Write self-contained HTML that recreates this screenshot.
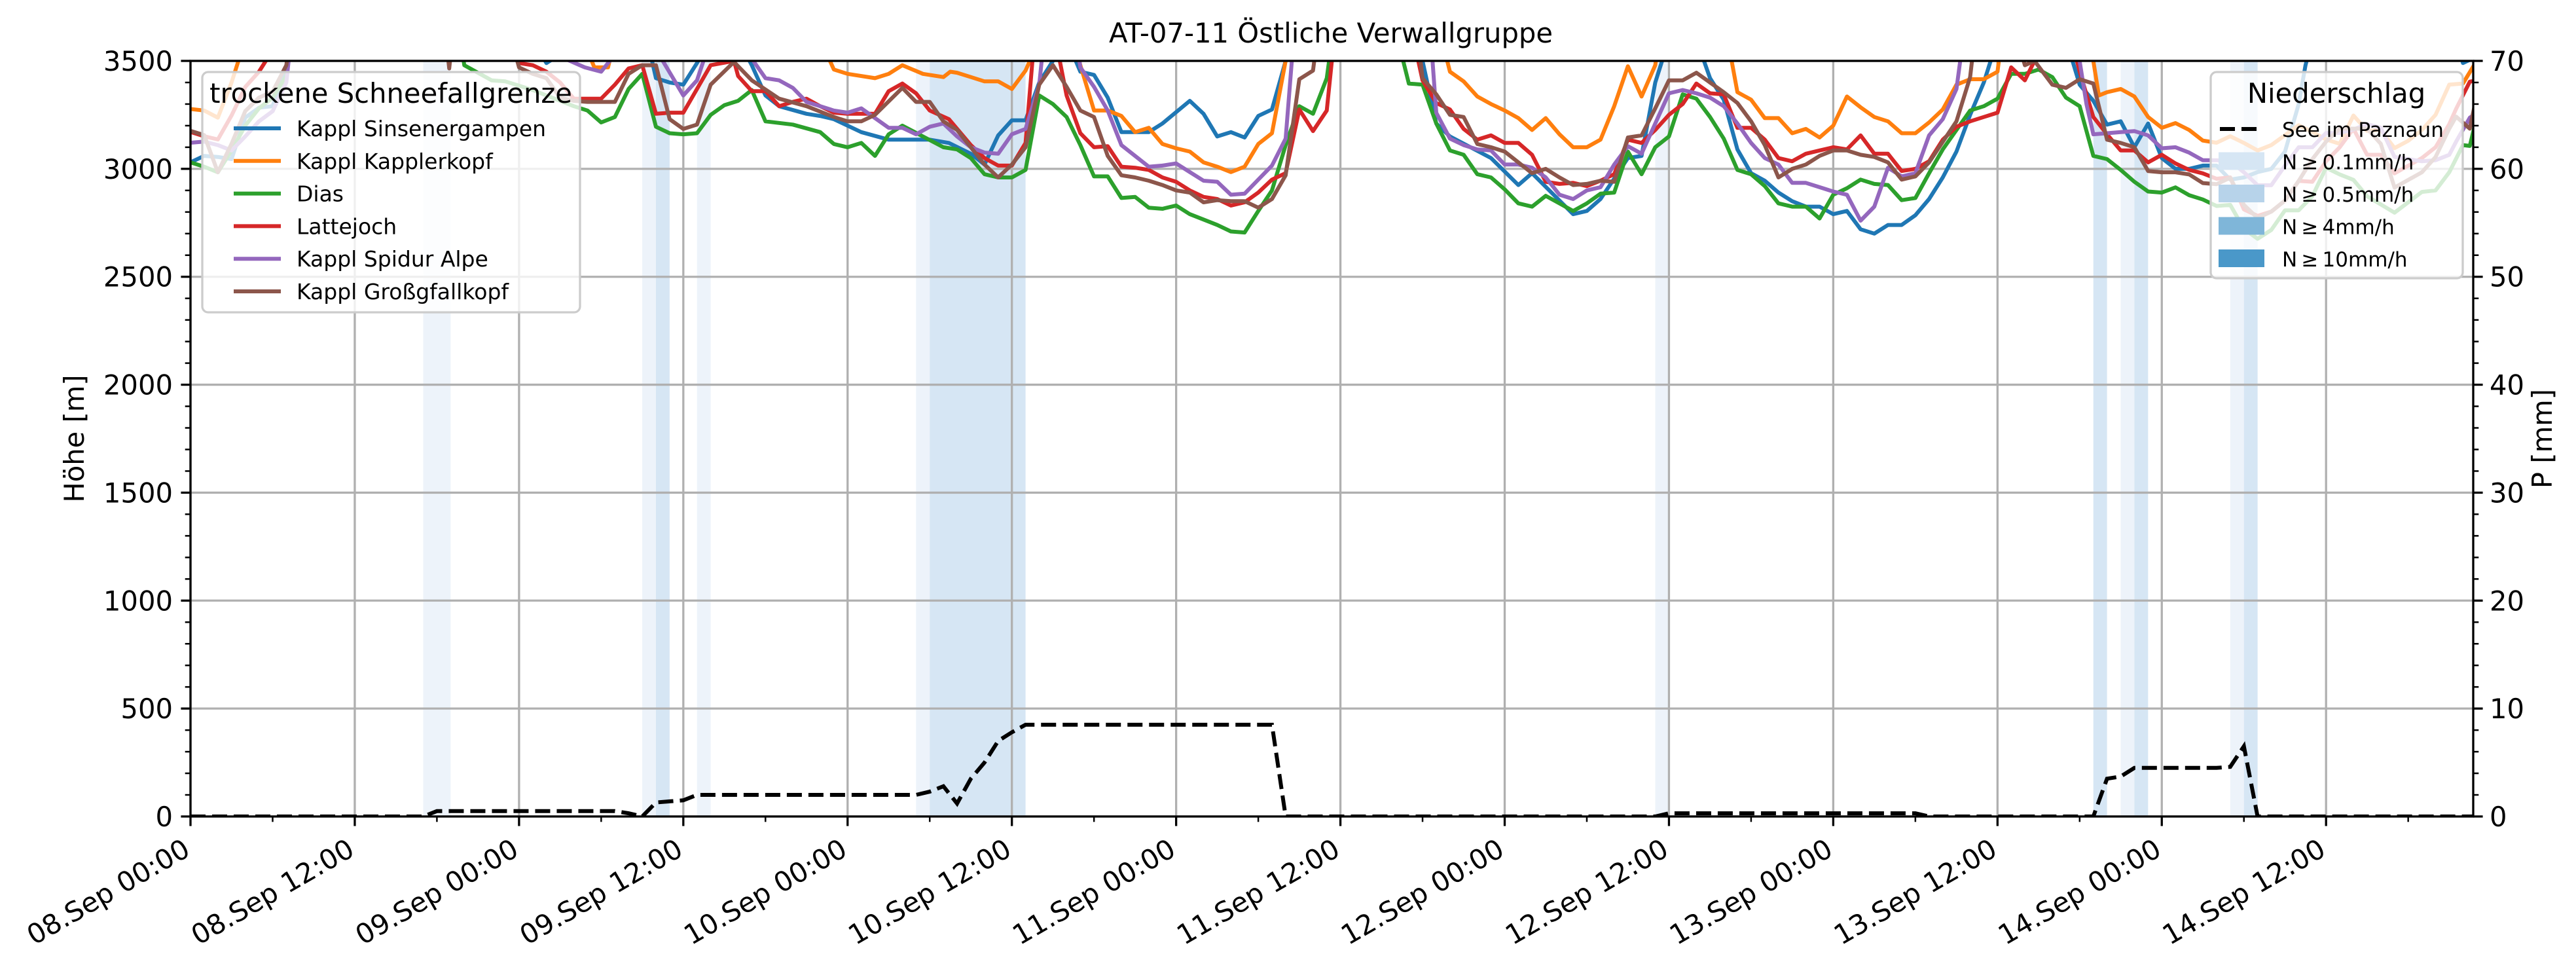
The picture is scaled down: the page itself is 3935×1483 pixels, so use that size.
<!DOCTYPE html>
<html><head><meta charset="utf-8"><title>AT-07-11 Östliche Verwallgruppe</title>
<style>html,body{margin:0;padding:0;background:#fff;}svg{display:block;font-family:"DejaVu Sans","Liberation Sans",sans-serif;}</style>
</head><body>
<svg id="chart" xmlns="http://www.w3.org/2000/svg" width="3935" height="1483" viewBox="0 0 3935 1483">
<defs><clipPath id="plotclip"><rect x="291" y="93" width="3487" height="1154"/></clipPath></defs>
<text x="2033" y="65" text-anchor="middle" font-size="41.7">AT-07-11 Östliche Verwallgruppe</text>
<g id="bands" clip-path="url(#plotclip)"></g>
<g id="grid"></g>
<g id="series" clip-path="url(#plotclip)"></g>
<g id="axes"></g>
<g id="legends"></g>
</svg>
<script>
const hourTicks = [0,12,24,36,48,60,72,84,96,108,120,132,144,156];
const tickLabels = ["08.Sep 00:00","08.Sep 12:00","09.Sep 00:00","09.Sep 12:00","10.Sep 00:00","10.Sep 12:00","11.Sep 00:00","11.Sep 12:00","12.Sep 00:00","12.Sep 12:00","13.Sep 00:00","13.Sep 12:00","14.Sep 00:00","14.Sep 12:00"];
const leftTicks = [0,500,1000,1500,2000,2500,3000,3500];
const rightTicks = [0,10,20,30,40,50,60,70];
const seriesNames = ["Kappl Sinsenergampen","Kappl Kapplerkopf","Dias","Lattejoch","Kappl Spidur Alpe","Kappl Großgfallkopf"];
const bandStart = [17,33,34,37,53,54,107,139,141,142,149,150];
const bandEnd   = [19,34,35,38,54,61,108,140,142,143,150,151];
const bandLevel = [0,0,1,0,0,1,0,1,0,1,0,1];
const precipHours = [0,17,18,31,32,33,34,35,36,37,53,54,55,56,57,58,59,60,61,79,80,107,108,126,127,139,140,141,142,148,149,150,151,166.75];
const precipValues = [0,0,0.5,0.5,0.3,0,1.3,1.4,1.5,2.0,2.0,2.3,2.8,1.2,3.5,5.0,7.0,7.8,8.5,8.5,0,0,0.3,0.3,0,0,3.5,3.7,4.5,4.5,4.6,6.5,0,0];
const sinsen = [[0,3030],[1,3060],[2,3055],[3,3045],[4,3237],[5,3283],[6,3290],[7,3480],[8,3700],[24,3700],[26,3490],[27,3530],[28,3700],[33,3700],[34,3420],[35,3400],[36,3390],[37,3490],[38,3600],[40,3600],[41,3480],[42,3340],[43,3290],[45,3255],[46,3245],[47,3230],[49,3170],[51,3135],[54,3135],[55.4,3120],[57,3070],[58,3020],[59,3155],[60,3225],[61,3225],[62,3400],[63,3500],[64,3600],[65,3450],[66,3435],[67,3330],[68,3170],[69,3170],[70,3170],[71,3210],[73,3315],[74,3255],[75,3150],[76,3170],[77,3145],[78,3245],[79,3275],[80,3500],[81,3700],[89,3700],[90,3500],[91,3210],[92,3150],[95,3050],[97,2925],[98,2980],[101,2790],[102,2805],[103,2860],[105,3050],[106,3060],[107,3400],[108,3600],[110,3600],[111,3420],[112,3320],[113,3090],[114,2980],[115,2945],[116,2890],[117,2850],[118,2825],[119,2825],[120,2790],[121,2805],[122,2720],[123,2700],[124,2740],[125,2740],[126,2785],[127,2860],[128,2960],[129,3080],[130,3250],[131,3400],[132,3600],[137,3600],[138,3390],[139,3315],[140,3205],[141,3220],[142,3100],[143,3210],[144,3050],[145,3000],[146,3000],[147,3015],[148,3015],[149,2950],[150,2960],[151,2985],[152,3000],[153,3080],[154,3300],[154.5,3480],[155,3600],[165.5,3600],[166,3490],[167,3520]];
const kapplerkopf = [[0,3277],[1,3270],[2,3237],[3,3400],[3.5,3500],[4,3700],[28,3700],[29.5,3470],[30.5,3470],[31,3600],[46,3600],[47,3460],[48,3440],[50,3420],[51,3440],[52,3480],[53.5,3440],[55,3425],[55.5,3450],[56,3445],[57,3425],[58,3405],[59,3405],[60,3370],[61,3455],[62,3600],[64.5,3600],[65,3480],[66,3270],[67,3270],[68,3245],[69,3170],[70,3190],[71,3115],[72,3095],[73,3080],[74,3030],[75,3010],[76,2985],[77,3010],[78,3115],[79,3165],[80,3500],[80.5,3700],[91,3700],[92,3450],[93,3405],[94,3335],[95,3300],[96,3270],[97,3235],[98,3180],[99,3235],[100,3160],[101,3100],[102,3100],[103,3135],[104,3290],[105,3475],[106,3335],[107,3480],[107.5,3700],[112,3700],[113,3355],[114,3320],[115,3235],[116,3235],[117,3165],[118,3185],[119,3145],[120,3200],[121,3335],[122,3285],[123,3240],[124,3220],[125,3165],[126,3165],[127,3215],[128,3275],[129,3390],[130,3415],[131,3415],[132,3450],[132.5,3700],[138.5,3700],[139.4,3340],[140,3355],[141,3370],[142,3335],[143,3240],[144,3190],[145,3212],[146,3180],[147,3131],[148,3121],[149,3151],[150,3120],[151,3085],[152,3110],[153,3156],[154,3202],[155,3171],[156,3136],[157,3116],[158,3247],[159,3176],[160,3180],[161,3096],[162,3130],[163,3180],[164,3250],[165,3390],[166,3395],[167,3500]];
const dias = [[0,3030],[1,3010],[2,2984],[3,3085],[4,3200],[5,3280],[6,3330],[7,3430],[7.5,3700],[19.5,3700],[20,3480],[22,3410],[23,3405],[25,3365],[26,3340],[28,3290],[29,3270],[30,3215],[31,3240],[32,3370],[33,3440],[34,3195],[35,3165],[36,3160],[37,3165],[38,3250],[39,3295],[40,3315],[41,3365],[42,3220],[44,3205],[46,3170],[47,3115],[48,3100],[49,3120],[50,3060],[51,3160],[52,3200],[53.5,3150],[55,3100],[56,3090],[57,3050],[58,2975],[59,2960],[60,2960],[61,2995],[62,3340],[63,3300],[64,3240],[65,3110],[66,2965],[67,2965],[68,2865],[69,2870],[70,2820],[71,2815],[72,2830],[73,2790],[74,2765],[75,2740],[76,2710],[77,2705],[78,2805],[79,2900],[80,3110],[81,3290],[82,3255],[83,3420],[83.6,3700],[87.8,3700],[89,3395],[90,3390],[91,3210],[92,3085],[93,3065],[94,2975],[95,2960],[96,2905],[97,2840],[98,2825],[99,2875],[100,2840],[101,2805],[102,2840],[103,2885],[104,2890],[105,3080],[106,2975],[107,3100],[108,3150],[109,3345],[110,3325],[111,3240],[112,3140],[113,2995],[114,2975],[115,2920],[116,2840],[117,2825],[118,2825],[119,2770],[120,2880],[121,2910],[122,2950],[123,2930],[124,2925],[125,2855],[126,2865],[127,2980],[128,3090],[129,3180],[130,3270],[131,3290],[132,3325],[133,3440],[134,3440],[135,3460],[136,3425],[137,3330],[138,3290],[139,3060],[140,3045],[141,2995],[142,2940],[143,2895],[144,2890],[145,2914],[146,2878],[147,2858],[148,2828],[149,2833],[150,2722],[151,2676],[152,2717],[153,2808],[154,2808],[155,2873],[156,3005],[157,2974],[158,2949],[159,2873],[161,2797],[163,2893],[164,2900],[165,2984],[166,3110],[166.5,3106],[167,3237]];
const lattejoch = [[0,3171],[1,3151],[2,3136],[3,3247],[4,3379],[5,3450],[6,3550],[7,3700],[23,3700],[24,3490],[25,3480],[26,3450],[27,3400],[28,3325],[29,3325],[30,3325],[31,3390],[32,3465],[33,3480],[34,3255],[35,3260],[36,3260],[37,3370],[38,3480],[39.7,3500],[40,3430],[41,3360],[42,3360],[43,3290],[44,3310],[45,3325],[46,3290],[47,3260],[48,3255],[50,3255],[51,3360],[52,3395],[53,3350],[54,3270],[55.4,3230],[57,3110],[58,3050],[59,3015],[60,3015],[61,3120],[61.5,3500],[62,3700],[63,3700],[63.5,3500],[64,3340],[65,3165],[66,3100],[67,3105],[68,3010],[69,3005],[70,2995],[71,2960],[72,2940],[73,2900],[74,2870],[75,2860],[76,2830],[77,2845],[78,2890],[79,2950],[80,2980],[81,3275],[82,3175],[83,3270],[83.7,3700],[89,3700],[90,3410],[91,3305],[92,3275],[93,3185],[94,3135],[95,3155],[96,3120],[97,3120],[98,3065],[99,2940],[100,2930],[101,2935],[102,2920],[103,2945],[104,2975],[105,3135],[106,3120],[107,3180],[108,3250],[109,3300],[110,3395],[111,3350],[112,3345],[113,3190],[114,3190],[115,3135],[116,3050],[117,3035],[118,3070],[119,3085],[120,3100],[121,3090],[122,3155],[123,3070],[124,3070],[125,2990],[126,3000],[127,3035],[128,3135],[129,3195],[130,3220],[131,3240],[132,3260],[133,3470],[134,3410],[134.7,3500],[135,3700],[137,3700],[138,3450],[139,3240],[140,3160],[141,3085],[142,3085],[143,3030],[144,3065],[145,3025],[146,2995],[147,2979],[148,2954],[149,2960],[150,2812],[151,2782],[152,2802],[153,2853],[154,2944],[155,2940],[156,3035],[157,3100],[158,3186],[159,3065],[160,3065],[161,2979],[163,3050],[164,3100],[165,3207],[165.5,3278],[166.5,3404],[167,3409]];
const spidur = [[0,3121],[1,3126],[2,3110],[3,3085],[4,3150],[5,3220],[6,3267],[7,3400],[7.5,3700],[26,3700],[27,3520],[28.8,3470],[30,3450],[31,3530],[32,3700],[34,3700],[34.5,3500],[36,3340],[37,3410],[38,3600],[40,3600],[42,3420],[43,3410],[44,3375],[45,3310],[47,3270],[48,3260],[49,3280],[51,3190],[52,3190],[53,3160],[54,3195],[55,3210],[56,3150],[57,3100],[58,3075],[59,3070],[60,3160],[61,3185],[62,3390],[62.5,3700],[64.5,3700],[65,3470],[66,3380],[67,3270],[68,3110],[69,3060],[70,3010],[71,3015],[72,3025],[73,2985],[74,2945],[75,2940],[76,2880],[77,2885],[78,2950],[79,3015],[80,3140],[80.7,3700],[90.5,3700],[91,3260],[92,3140],[93,3110],[94,3090],[95,3085],[96,3020],[97,3020],[98,3005],[99,2960],[100,2880],[101,2860],[102,2900],[103,2915],[104,3020],[105,3105],[106,3070],[107,3210],[108,3350],[109,3365],[110,3350],[111,3330],[112,3290],[113,3210],[114,3120],[115,3050],[116,3020],[117,2935],[118,2935],[119,2915],[120,2895],[121,2880],[122,2760],[123,2825],[124,3005],[125,2965],[126,2980],[127,3155],[128,3230],[129,3370],[129.7,3700],[137.5,3700],[138.5,3300],[139,3160],[140,3165],[141,3170],[142,3175],[143,3155],[144,3095],[145,3100],[146,3075],[147,3040],[148,3040],[149,3035],[150,2984],[151,2924],[152,2924],[153,3015],[154,3100],[155,3100],[156,3166],[157,3166],[158,3182],[159,3207],[160,3190],[161,3055],[163,3035],[164,3040],[165,3065],[165.5,3126],[166.5,3237],[167,3257]];
const grossgfall = [[0,3176],[1,3156],[2,2984],[3,3116],[4,3267],[5,3330],[6,3358],[7,3480],[7.5,3700],[18.5,3700],[18.9,3465],[19.3,3700],[23,3700],[24,3470],[25,3440],[26,3420],[27,3330],[28,3315],[29,3310],[30,3310],[31,3310],[32,3440],[33,3480],[34,3480],[35,3230],[36,3185],[37,3205],[38,3390],[39.7,3495],[41,3410],[43,3325],[45,3290],[47,3240],[48,3220],[49,3220],[50,3250],[52,3375],[53,3310],[54,3310],[55,3220],[56,3180],[57,3100],[58,3020],[59,2960],[60,3020],[61,3100],[62,3390],[63,3480],[64,3380],[65,3270],[66,3240],[67,3060],[68,2970],[69,2960],[70,2945],[71,2925],[72,2900],[73,2890],[74,2845],[75,2855],[76,2850],[77,2850],[78,2820],[79,2860],[80,2970],[81,3415],[82,3455],[82.5,3700],[89.5,3700],[90,3420],[91,3345],[92,3250],[93,3240],[94,3115],[95,3100],[96,3080],[97,3030],[98,2980],[99,3000],[100,2960],[101,2925],[102,2930],[103,2945],[104,2940],[105,3145],[106,3155],[107,3280],[108,3410],[109,3410],[110,3445],[111,3400],[112,3355],[113,3305],[114,3220],[115,3110],[116,2960],[117,3000],[118,3020],[119,3060],[120,3085],[121,3085],[122,3065],[123,3055],[124,3030],[125,2950],[126,2965],[127,3030],[128,3125],[129,3220],[130,3425],[130.5,3700],[133,3700],[134,3480],[134.7,3500],[136,3390],[137,3375],[138,3415],[139,3395],[140,3135],[141,3120],[142,3100],[143,2990],[144,2984],[145,2984],[146,2974],[147,2934],[148,2929],[149,2959],[150,2833],[151,2772],[152,2802],[153,2853],[154,2944],[155,3045],[156,3126],[157,3186],[158,3186],[159,3186],[160,3116],[161,2913],[163,2984],[164,3055],[165,3186],[165.5,3242],[166.5,3186],[167,3338]];
const allSeries = [sinsen,kapplerkopf,dias,lattejoch,spidur,grossgfall];
const seriesColors = ["#1f77b4","#ff7f0e","#2ca02c","#d62728","#9467bd","#8c564b"];
const bandColors = ["#edf3fa","#d6e6f4","#b7d3ea","#4a98c9"];

const NS = "http://www.w3.org/2000/svg";
const L = 291, R = 3778, T = 93, B = 1247, XMAX = 166.75;
const xs = h => L + h / XMAX * (R - L);
const ys = v => B - v / 3500 * (B - T);
const yr = p => B - p / 70 * (B - T);
function mk(tag, attrs, parent) { const e = document.createElementNS(NS, tag); for (const k in attrs) e.setAttribute(k, attrs[k]); parent.appendChild(e); return e; }
const gB = document.getElementById('bands'), gG = document.getElementById('grid'), gS = document.getElementById('series'), gA = document.getElementById('axes'), gL = document.getElementById('legends');

bandStart.forEach((s, i) => {
  const r = mk('rect', {x: xs(s), y: T, width: xs(bandEnd[i]) - xs(s), height: B - T, fill: bandColors[bandLevel[i]]}, gB);
  
  
});
hourTicks.forEach(h => {
  const l = mk('line', {x1: xs(h), x2: xs(h), y1: T, y2: B, stroke: '#b0b0b0', 'stroke-width': 3.3}, gG);
  
  
});
leftTicks.forEach(v => {
  const l = mk('line', {x1: L, x2: R, y1: ys(v), y2: ys(v), stroke: '#b0b0b0', 'stroke-width': 3.3}, gG);
  
  
});
allSeries.forEach((s, i) => {
  const p = mk('polyline', {points: s.map(d => xs(d[0]).toFixed(1) + ',' + ys(d[1]).toFixed(1)).join(' '), fill: 'none', stroke: seriesColors[i], 'stroke-width': 6, 'stroke-linejoin': 'round'}, gS);
  
  
});
const pl = mk('polyline', {points: precipHours.map((h, i) => xs(h).toFixed(1) + ',' + yr(precipValues[i]).toFixed(1)).join(' '), fill: 'none', stroke: '#000', 'stroke-width': 6, 'stroke-dasharray': '23 10'}, gS);



const fr = mk('rect', {x: L, y: T, width: R - L, height: B - T, fill: 'none', stroke: '#000', 'stroke-width': 3.3}, gA);


for (let h = 0; h <= XMAX; h += 6) {
  const major = h % 12 === 0;
  const t = mk('line', {x1: xs(h), x2: xs(h), y1: B, y2: B + (major ? 14.6 : 8.3), stroke: '#000', 'stroke-width': major ? 3.3 : 2.5}, gA);
  
  
}
hourTicks.forEach((h, i) => {
  const ax = xs(h) + 2, ay = B + 58;
  const t = mk('text', {x: ax, y: ay, 'text-anchor': 'end', 'font-size': 41.7, transform: 'rotate(-30 ' + ax + ' ' + ay + ')'}, gA);
  t.textContent = tickLabels[i];
  
  
});
for (let v = 0; v <= 3500; v += 100) {
  const major = v % 500 === 0;
  const t = mk('line', {x1: L - (major ? 14.6 : 8.3), x2: L, y1: ys(v), y2: ys(v), stroke: '#000', 'stroke-width': major ? 3.3 : 2.5}, gA);
  
  
}
leftTicks.forEach(v => {
  const t = mk('text', {x: L - 27, y: ys(v) + 15, 'text-anchor': 'end', 'font-size': 41.7}, gA);
  t.textContent = v;
  
  
});
for (let p = 0; p <= 70; p += 2) {
  const major = p % 10 === 0;
  const t = mk('line', {x1: R, x2: R + (major ? 14.6 : 8.3), y1: yr(p), y2: yr(p), stroke: '#000', 'stroke-width': major ? 3.3 : 2.5}, gA);
  
  
}
rightTicks.forEach(p => {
  const t = mk('text', {x: R + 25, y: yr(p) + 15, 'font-size': 41.7}, gA);
  t.textContent = p;
  
  
});
const yl = mk('text', {x: 128, y: 670, 'text-anchor': 'middle', 'font-size': 41.7, transform: 'rotate(-90 128 670)'}, gA);
yl.textContent = 'Höhe [m]';


const yl2 = mk('text', {x: 3898, y: 670, 'text-anchor': 'middle', 'font-size': 41.7, transform: 'rotate(-90 3898 670)'}, gA);
yl2.textContent = 'P [mm]';



const lg = mk('g', {}, gL);


mk('rect', {x: 309, y: 110, width: 577, height: 367, rx: 9, fill: '#fff', 'fill-opacity': 0.8, stroke: '#cccccc', 'stroke-width': 3.3}, lg);
const lt = mk('text', {x: 597, y: 157, 'text-anchor': 'middle', 'font-size': 41.7}, lg);
lt.textContent = 'trockene Schneefallgrenze';


seriesNames.forEach((n, i) => {
  const y = 196 + i * 49.8;
  const g = mk('g', {}, lg);
  
  
  mk('line', {x1: 357, x2: 429, y1: y, y2: y, stroke: seriesColors[i], 'stroke-width': 6}, g);
  const t = mk('text', {x: 453, y: y + 12, 'font-size': 33}, g);
  t.textContent = n;
});
const rg = mk('g', {}, gL);


mk('rect', {x: 3377, y: 110, width: 385, height: 315, rx: 9, fill: '#fff', 'fill-opacity': 0.8, stroke: '#cccccc', 'stroke-width': 3.3}, rg);
const rt = mk('text', {x: 3569, y: 157, 'text-anchor': 'middle', 'font-size': 41.7}, rg);
rt.textContent = 'Niederschlag';


const rLabels = ['See im Paznaun', 'N\u2009≥\u20090.1mm/h', 'N\u2009≥\u20090.5mm/h', 'N\u2009≥\u20094mm/h', 'N\u2009≥\u200910mm/h'];
const rColors = [null, '#d6e6f4', '#b7d3ea', '#7fb6d9', '#4a98c9'];
rLabels.forEach((n, i) => {
  const y = 197 + i * 49.5;
  const g = mk('g', {}, rg);
  
  
  if (i === 0) mk('line', {x1: 3391, x2: 3447, y1: y, y2: y, stroke: '#000', 'stroke-width': 6, 'stroke-dasharray': '23 10'}, g);
  else mk('rect', {x: 3389, y: y - 14, width: 70, height: 27, fill: rColors[i]}, g);
  const t = mk('text', {x: 3486, y: y + 12, 'font-size': 31}, g);
  t.textContent = n;
});
</script>
</body></html>
